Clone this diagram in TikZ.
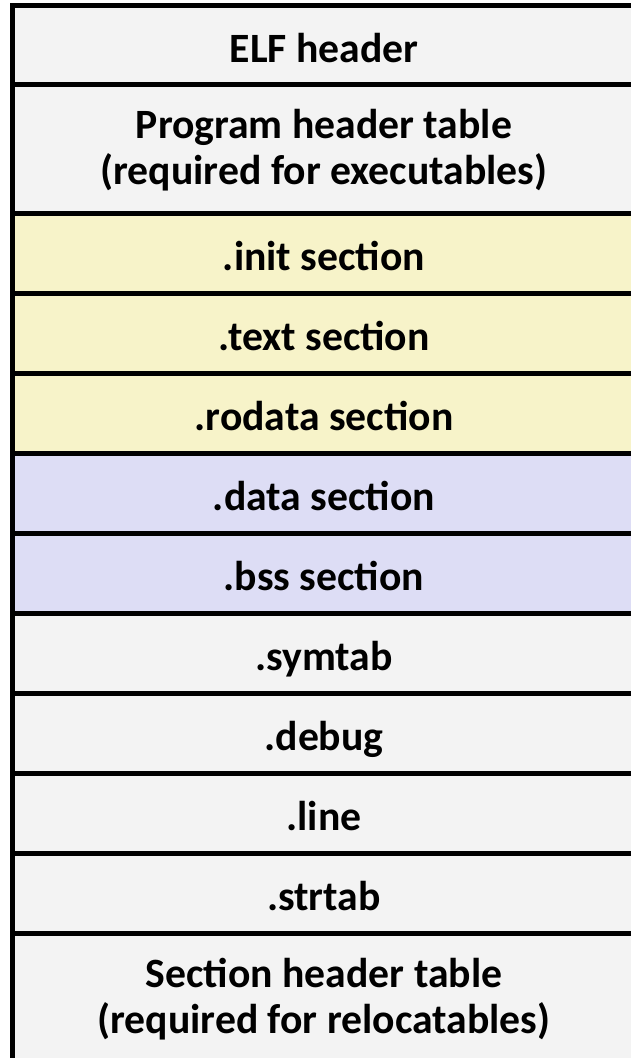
\documentclass[tikz,border=0pt]{standalone}
\usepackage{fontspec}
\setmainfont{Carlito}
\usepackage{xcolor}
\usepackage{tikz}
\usetikzlibrary{positioning}
\definecolor{plaingray}{RGB}{243, 243, 243}
\definecolor{codeyellow}{RGB}{247, 243, 201}
\definecolor{datapurple}{RGB}{221, 221, 245}

\begin{document}
\begin{tikzpicture}[x=1pt, y=1pt,
        secbox/.style={rectangle, draw=black, fill=plaingray, line width=5pt, outer sep=0pt, inner sep=0pt, minimum width=624pt, minimum height=80pt, text height=36pt, text depth=2pt, align=center, font=\fontsize{41.7}{46}\selectfont\bfseries},
        tallbox/.style={secbox, minimum height=128.5pt, text height=76pt, text depth=4pt},
        codebox/.style={secbox, fill=codeyellow},
        databox/.style={secbox, fill=datapurple}
    ]
        \useasboundingbox (0,0) rectangle (631,-1058);
        \node[secbox, minimum height=79pt] (elf) at (324,-45) {ELF header};
        \node[tallbox, below=0pt of elf] (phdr) {Program header table\\(required for executables)};
        \node[codebox, below=0pt of phdr] (init) {.init section};
        \node[codebox, below=0pt of init] (text) {.text section};
        \node[codebox, below=0pt of text] (rodata) {.rodata section};
        \node[databox, below=0pt of rodata] (data) {.data section};
        \node[databox, below=0pt of data] (bss) {.bss section};
        \node[secbox, below=0pt of bss] (symtab) {.symtab};
        \node[secbox, below=0pt of symtab] (debug) {.debug};
        \node[secbox, below=0pt of debug] (line) {.line};
        \node[secbox, below=0pt of line] (strtab) {.strtab};
        \node[tallbox, below=0pt of strtab] (shdr) {Section header table\\(required for relocatables)};
    \end{tikzpicture}
\end{document}
